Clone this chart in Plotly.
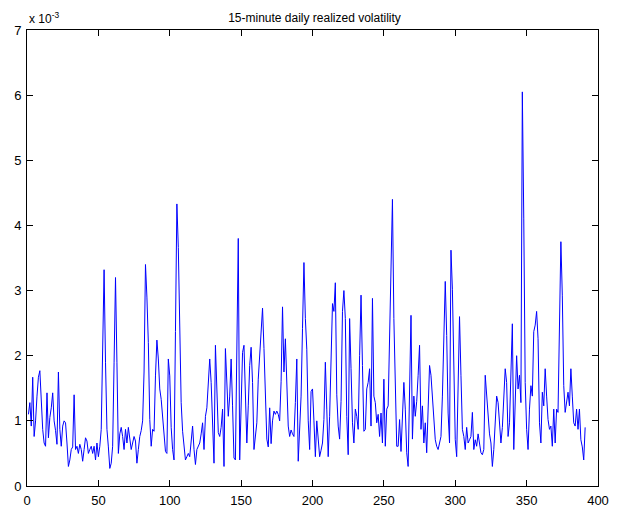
import plotly.graph_objects as go

# realized volatility values (in units of 1e-3)
rv_1_100 = [
    1.1, 1.28, 0.92, 1.67, 0.76, 1.0, 1.38, 1.67, 1.77, 1.18,
    0.87, 0.66, 0.61, 1.43, 0.74, 1.05, 1.2, 1.43, 1.0, 0.85,
    0.64, 1.75, 0.87, 0.61, 0.92, 1.0, 0.97, 0.66, 0.3, 0.4,
    0.56, 0.6, 1.4, 0.56, 0.61, 0.5, 0.64, 0.56, 0.38, 0.56,
    0.74, 0.69, 0.5, 0.56, 0.61, 0.5, 0.61, 0.4, 0.66, 0.45,
    0.61, 0.87, 2.31, 3.32, 1.9, 0.87, 0.6, 0.27, 0.35, 0.61,
    1.9, 3.2, 1.9, 0.5, 0.8, 0.9, 0.76, 0.56, 0.87, 0.66,
    0.9, 0.7, 0.56, 0.66, 0.76, 0.69, 0.35, 0.56, 0.76, 0.85,
    1.0, 1.75, 3.4, 2.9, 2.2, 1.02, 0.61, 0.87, 0.84, 1.69,
    2.24, 1.95, 1.49, 1.33, 1.07, 0.8, 0.53, 0.5, 1.95, 1.69,
]
rv_101_200 = [
    0.9, 0.56, 0.4, 2.37, 4.33, 3.66, 2.35, 1.28, 0.84, 0.61,
    0.4, 0.45, 0.5, 0.45, 0.7, 0.92, 0.56, 0.33, 0.56, 0.6,
    0.66, 0.8, 0.97, 0.56, 1.07, 1.2, 1.59, 1.95, 1.59, 1.0,
    0.35, 2.16, 1.49, 0.82, 0.76, 0.9, 1.18, 0.3, 2.11, 1.69,
    1.07, 1.38, 1.95, 1.23, 0.43, 0.4, 2.05, 3.8, 0.4, 1.43,
    2.05, 2.16, 1.49, 0.66, 1.23, 1.85, 2.13, 1.59, 0.56, 0.8,
    0.97, 1.64, 2.0, 2.37, 2.73, 2.11, 1.38, 0.72, 0.6, 1.2,
    0.65, 1.0, 1.15, 1.1, 1.15, 1.1, 1.0, 1.6, 2.75, 1.75,
    2.26, 1.7, 0.92, 0.76, 0.86, 0.8, 0.76, 1.28, 1.95, 0.38,
    1.0, 1.38, 2.42, 3.43, 2.57, 2.1, 1.0, 0.56, 1.45, 1.49,
]
rv_201_300 = [
    1.0, 0.45, 1.0, 0.76, 0.45, 0.55, 0.66, 1.02, 1.9, 1.18,
    0.45, 1.07, 2.1, 2.8, 2.68, 3.12, 1.4, 0.92, 0.72, 1.3,
    2.68, 3.0, 2.57, 1.07, 0.48, 2.57, 1.8, 0.97, 0.66, 1.18,
    1.07, 0.87, 2.0, 2.93, 1.85, 0.84, 0.87, 1.49, 1.59, 1.8,
    0.92, 2.88, 1.38, 1.28, 0.97, 1.1, 0.76, 1.12, 0.66, 1.64,
    0.61, 1.18, 1.23, 2.5, 3.3, 4.4, 2.57, 1.38, 0.61, 0.61,
    1.02, 0.53, 1.07, 1.59, 1.18, 0.51, 0.3, 1.7, 2.62, 0.72,
    1.38, 1.07, 1.3, 1.7, 2.16, 0.87, 1.23, 0.66, 0.97, 0.51,
    1.18, 1.85, 1.7, 1.38, 0.9, 0.71, 0.61, 0.56, 0.66, 0.76,
    1.38, 2.52, 3.14, 2.31, 1.12, 0.66, 3.62, 3.02, 2.06, 0.71,
]
rv_301_391 = [
    0.45, 1.5, 2.6, 1.7, 0.87, 0.76, 0.56, 0.9, 0.66, 0.71,
    0.76, 1.13, 0.56, 0.71, 0.61, 0.8, 0.66, 0.51, 0.48, 0.56,
    1.7, 1.38, 0.97, 0.8, 0.66, 0.3, 0.56, 0.97, 1.38, 1.28,
    0.87, 0.66, 0.9, 1.28, 1.8, 1.59, 0.76, 0.97, 1.59, 2.49,
    0.56, 1.23, 2.0, 1.49, 1.7, 1.28, 6.05, 4.1, 1.59, 0.87,
    0.56, 1.18, 1.54, 1.38, 2.37, 2.47, 2.68, 2.26, 0.97, 0.66,
    1.44, 1.23, 1.8, 1.38, 1.02, 0.87, 0.92, 0.61, 1.18, 0.66,
    1.18, 1.13, 2.31, 3.75, 2.93, 1.54, 1.13, 1.28, 1.44, 1.23,
    1.8, 1.38, 0.97, 0.92, 1.18, 0.87, 1.18, 0.71, 0.6, 0.4, 0.9,
]
rv = rv_1_100 + rv_101_200 + rv_201_300 + rv_301_391
days = list(range(1, len(rv) + 1))

x_ticks = [0, 50, 100, 150, 200, 250, 300, 350, 400]
y_ticks = [0, 1, 2, 3, 4, 5, 6, 7]
title_text = "15-minute daily realized volatility"
exponent_text = "x 10<sup>-3</sup>"

fig = go.Figure()
fig.add_trace(go.Scatter(x=days, y=rv, mode="lines",
                         line=dict(color="#0000ff", width=1), showlegend=False))

tick_font = dict(size=13, color="black", family="Liberation Sans, Arial")
axis_common = dict(showgrid=False, zeroline=False, showline=True, linecolor="black",
                   linewidth=1, mirror="ticks", ticks="inside", ticklen=6,
                   tickcolor="black", tickfont=tick_font, automargin=False)
fig.update_xaxes(range=[0, 400], tickvals=x_ticks, ticktext=[str(v) for v in x_ticks],
                 ticklabelstandoff=2, **axis_common)
fig.update_yaxes(range=[0, 7], tickvals=y_ticks, ticktext=[str(v) for v in y_ticks],
                 ticklabelstandoff=2, **axis_common)

fig.update_layout(
    width=629, height=510,
    margin=dict(l=27, r=31, t=30, b=24),
    paper_bgcolor="white", plot_bgcolor="white",
    font=dict(family="Liberation Sans, Arial", size=12, color="black"),
    title=dict(text=title_text, x=0.5, xanchor="center", y=0.965, yanchor="middle",
               yref="container", font=dict(size=12, color="black")),
    annotations=[dict(text=exponent_text, xref="paper", yref="paper",
                      x=0, y=1, xanchor="left", yanchor="bottom", showarrow=False,
                      yshift=2, font=dict(size=12, color="black"))],
)

fig.write_html("out.html")
